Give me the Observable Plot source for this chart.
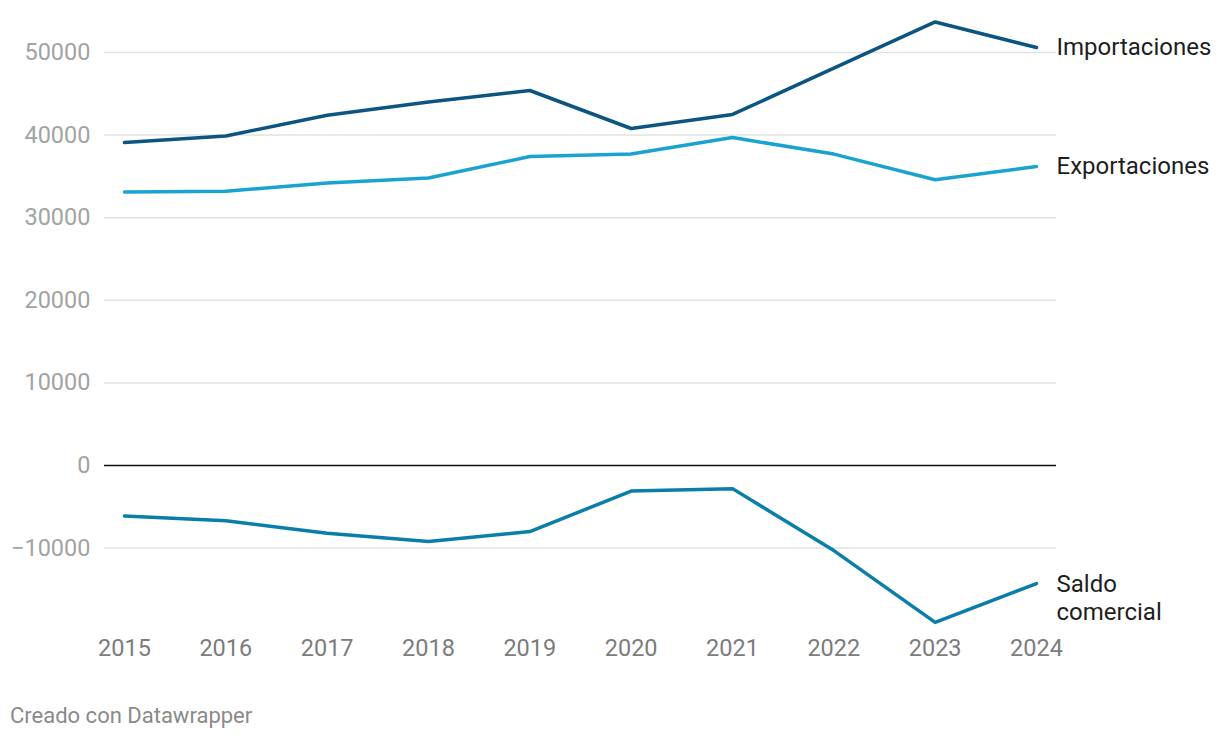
<!DOCTYPE html>
<html>
<head>
<meta charset="utf-8">
<script src="https://cdn.jsdelivr.net/npm/d3@7"></script>
<script src="https://cdn.jsdelivr.net/npm/@observablehq/plot@0.6"></script>
<style>
  html, body { margin: 0; padding: 0; background: #fff; }
  body { font-family: Roboto, "Noto Sans", sans-serif; }
  #caption { position: absolute; left: 10px; top: 703px; font-size: 22px; color: #8a8a8a; font-family: Roboto, sans-serif; }
</style>
</head>
<body>
<div id="chart"></div>
<div id="caption">Creado con Datawrapper</div>
<script>
const years = [2015, 2016, 2017, 2018, 2019, 2020, 2021, 2022, 2023, 2024];
const importaciones = [39100, 39900, 42400, 44000, 45400, 40800, 42500, 48100, 53700, 50600];
const exportaciones = [33100, 33200, 34200, 34800, 37400, 37700, 39700, 37700, 34600, 36200];
const saldo = [-6100, -6700, -8200, -9200, -8000, -3100, -2800, -10300, -19000, -14300];
const seriesNames = ["Importaciones", "Exportaciones", "Saldo comercial"];
const seriesLabels = ["Importaciones", "Exportaciones", "Saldo\ncomercial"];
const seriesColors = ["#0b5580", "#1aa3d1", "#0a7ea8"];
const yTicks = [-10000, 0, 10000, 20000, 30000, 40000, 50000];

const seriesValues = [importaciones, exportaciones, saldo];
const rows = [];
seriesNames.forEach((name, i) => {
  years.forEach((yr, j) => rows.push({ series: name, year: yr, value: seriesValues[i][j] }));
});
const lastRows = seriesNames.map((name, i) => ({
  series: name, label: seriesLabels[i], year: years[years.length - 1], value: seriesValues[i][years.length - 1]
}));

const fmt = d => d < 0 ? "\u2212" + Math.abs(d) : String(d);

const chart = Plot.plot({
  width: 1220,
  height: 680,
  marginLeft: 104,
  marginRight: 164,
  marginTop: 11,
  marginBottom: 50,
  style: { fontFamily: "Roboto, sans-serif", background: "#fff" },
  x: { domain: [2015, 2024], range: [124, 1036] },
  y: { domain: [-20000, 55000], range: [630.2, 10.7] },
  color: { domain: seriesNames, range: seriesColors },
  marks: [
    Plot.ruleY(yTicks.filter(d => d !== 0), { stroke: "#e2e2e2", strokeWidth: 1.5 }),
    Plot.axisY(yTicks, { tickSize: 0, tickPadding: 14, tickFormat: fmt, fontSize: 23.5, fill: "#a3a3a3", label: null }),
    Plot.axisX(years, { tickSize: 0, tickPadding: 9, tickFormat: d => String(d), fontSize: 23.5, fill: "#7c7c7c", label: null }),
    Plot.ruleY([0], { stroke: "#111", strokeWidth: 1.7 }),
    Plot.line(rows, { x: "year", y: "value", z: "series", stroke: "series", strokeWidth: 3.5, strokeLinejoin: "round", strokeLinecap: "round" }),
    Plot.text(lastRows, { x: "year", y: "value", text: "label", dx: 20, dy: -12, textAnchor: "start", lineAnchor: "top", fontSize: 24, fill: "#1e1e1e", lineHeight: 1.17 })
  ]
});
document.getElementById("chart").appendChild(chart);
</script>
</body>
</html>
